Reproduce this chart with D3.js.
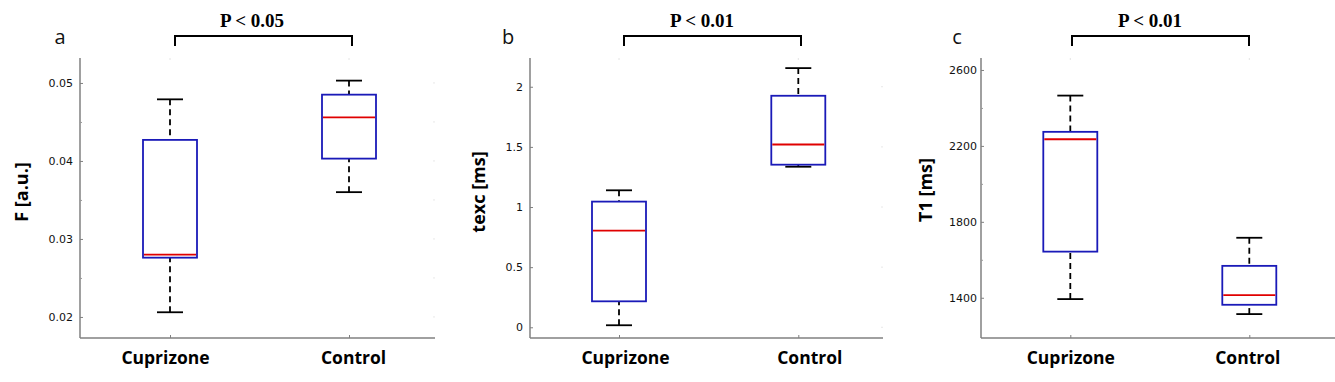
<!DOCTYPE html>
<html><head><meta charset="utf-8">
<script src="https://cdn.jsdelivr.net/npm/d3@7"></script>
<style>
html,body{margin:0;padding:0;background:#fff;}
svg{display:block;}
</style></head>
<body>
<svg id="chart" width="1335" height="382"></svg>
<script>
// ---------------- data ----------------
const categories = ["Cuprizone", "Control"];
// box stats: [lower whisker, Q1, median, Q3, upper whisker]
const fStats    = [[0.0206, 0.0276, 0.0280, 0.0427, 0.0479], [0.0360, 0.0403, 0.0456, 0.0485, 0.0503]];
const texcStats = [[0.017, 0.216, 0.804, 1.045, 1.139], [1.335, 1.352, 1.520, 1.925, 2.155]];
const t1Stats   = [[1393, 1643, 2235, 2274, 2465], [1314, 1363, 1414, 1568, 1716]];
const fTicks    = [0.02, 0.03, 0.04, 0.05];
const fMinor    = [0.025, 0.035, 0.045];
const texcTicks = [0, 0.5, 1, 1.5, 2];
const texcMinor = [];
const t1Ticks   = [1400, 1800, 2200, 2600];
const t1Minor   = [1600, 2000, 2400];
const yLabels   = ["F [a.u.]", "texc [ms]", "T1 [ms]"];
const letters   = ["a", "b", "c"];
const pLabels   = ["P < 0.05", "P < 0.01", "P < 0.01"];

// ---------------- layout ----------------
const panels = [
  {stats: fStats, ticks: fTicks, minor: fMinor, fmt: d3.format(".2f"), domain: [0.0173, 0.0532],
   axisX: 80, right: 435, cats: [170, 349], labelDx: [-5, 4], tickPad: 7,
   ylabX: 21, ylabY: 192, letterX: 60, bracket: [175, 352], pX: 252},
  {stats: texcStats, ticks: texcTicks, minor: texcMinor, fmt: d3.format("~g"), domain: [-0.089, 2.239],
   axisX: 530, right: 883, cats: [619, 798.3], labelDx: [6, 11], tickPad: 7,
   ylabX: 478, ylabY: 192, letterX: 508, bracket: [624, 801], pX: 702},
  {stats: t1Stats, ticks: t1Ticks, minor: t1Minor, fmt: d3.format("d"), domain: [1188, 2663],
   axisX: 981, right: 1335, cats: [1070.3, 1249.3], labelDx: [0, -2], tickPad: 4,
   ylabX: 925, ylabY: 190, letterX: 957, bracket: [1072, 1249], pX: 1150}
];
const plotTop = 58, plotBottom = 338, boxW = 54, capW = 26;
const svg = d3.select("#chart");

panels.forEach((p, i) => {
  const g = svg.append("g");
  const y = d3.scaleLinear().domain(p.domain).range([plotBottom, plotTop]);
  const x = d3.scalePoint().domain(categories).range(p.cats);

  // y axis
  const ya = g.append("g").attr("transform", `translate(${p.axisX},0)`)
    .call(d3.axisLeft(y).tickValues(p.ticks).tickFormat(p.fmt).tickSizeInner(-3).tickSizeOuter(0).tickPadding(p.tickPad));
  ya.select(".domain").attr("d", `M0,${plotTop}V${plotBottom}`).attr("stroke", "#808080").attr("stroke-width", 1.5);
  ya.selectAll(".tick line").attr("stroke", "#808080");
  ya.selectAll(".tick text").attr("font-family", "DejaVu Sans, sans-serif").attr("font-size", 11).attr("fill", "#111");
  // minor ticks
  g.append("g").attr("transform", `translate(${p.axisX},0)`)
    .call(d3.axisLeft(y).tickValues(p.minor).tickFormat("").tickSizeInner(-2).tickSizeOuter(0))
    .call(s => { s.select(".domain").remove(); s.selectAll("line").attr("stroke", "#999"); });

  // x axis
  const xa = g.append("g").attr("transform", `translate(0,${plotBottom})`)
    .call(d3.axisBottom(x).tickSizeInner(-3).tickSizeOuter(0).tickPadding(14));
  xa.select(".domain").attr("d", `M${p.axisX},0H${p.right}`).attr("stroke", "#808080").attr("stroke-width", 1.5);
  xa.selectAll(".tick line").attr("stroke", "#808080");
  xa.selectAll(".tick text").attr("font-family", "Open Sans, sans-serif").attr("font-weight", "bold")
    .attr("font-size", 17.5).attr("fill", "#000").attr("dy", "0.71em")
    .attr("dx", (d, j) => p.labelDx[j]);

  // faint ticks along top and right (as in the original)
  g.selectAll(".topTick").data(categories).join("line")
    .attr("x1", d => x(d)).attr("x2", d => x(d)).attr("y1", plotTop).attr("y2", plotTop + 2)
    .attr("stroke", "#e4e4e4");
  if (p.right < 1330) {
    g.selectAll(".rTick").data(p.ticks.concat(p.minor)).join("line")
      .attr("x1", p.right - 2).attr("x2", p.right).attr("y1", d => y(d)).attr("y2", d => y(d))
      .attr("stroke", "#e8e8e8");
  }

  // boxes
  categories.forEach((c, j) => {
    const s = p.stats[j], cx = x(c);
    g.append("line").attr("x1", cx).attr("x2", cx).attr("y1", y(s[4])).attr("y2", y(s[3]))
      .attr("stroke", "#000").attr("stroke-width", 1.8).attr("stroke-dasharray", "6,4");
    g.append("line").attr("x1", cx).attr("x2", cx).attr("y1", y(s[0])).attr("y2", y(s[1]))
      .attr("stroke", "#000").attr("stroke-width", 1.8).attr("stroke-dasharray", "6,4");
    [s[0], s[4]].forEach(v => {
      g.append("line").attr("x1", cx - capW / 2).attr("x2", cx + capW / 2).attr("y1", y(v)).attr("y2", y(v))
        .attr("stroke", "#000").attr("stroke-width", 1.8);
    });
    g.append("rect").attr("x", cx - boxW / 2).attr("width", boxW)
      .attr("y", y(s[3])).attr("height", y(s[1]) - y(s[3]))
      .attr("fill", "#fff").attr("stroke", "#1a1ab8").attr("stroke-width", 1.8);
    g.append("line").attr("x1", cx - boxW / 2 + 1).attr("x2", cx + boxW / 2 - 1).attr("y1", y(s[2])).attr("y2", y(s[2]))
      .attr("stroke", "#e00000").attr("stroke-width", 1.8);
  });

  // y label
  g.append("text").attr("transform", `translate(${p.ylabX},${p.ylabY}) rotate(-90)`)
    .attr("text-anchor", "middle").attr("dominant-baseline", "central")
    .attr("font-family", "Open Sans, sans-serif").attr("font-weight", "bold").attr("font-size", 18)
    .attr("fill", "#000").text(yLabels[i]);

  // panel letter
  g.append("text").attr("x", p.letterX).attr("y", 44).attr("text-anchor", "middle")
    .attr("font-family", "Open Sans, sans-serif").attr("font-size", 20).attr("fill", "#111").text(letters[i]);

  // significance bracket
  const [b1, b2] = p.bracket;
  g.append("path").attr("d", `M${b1},46V36H${b2}V46`).attr("fill", "none")
    .attr("stroke", "#000").attr("stroke-width", 2);
  g.append("text").attr("x", p.pX).attr("y", 26.5).attr("text-anchor", "middle")
    .attr("font-family", "Liberation Serif, Times New Roman, serif").attr("font-weight", "bold")
    .attr("font-size", 19).attr("fill", "#000").text(pLabels[i]);
});
</script>
</body></html>
